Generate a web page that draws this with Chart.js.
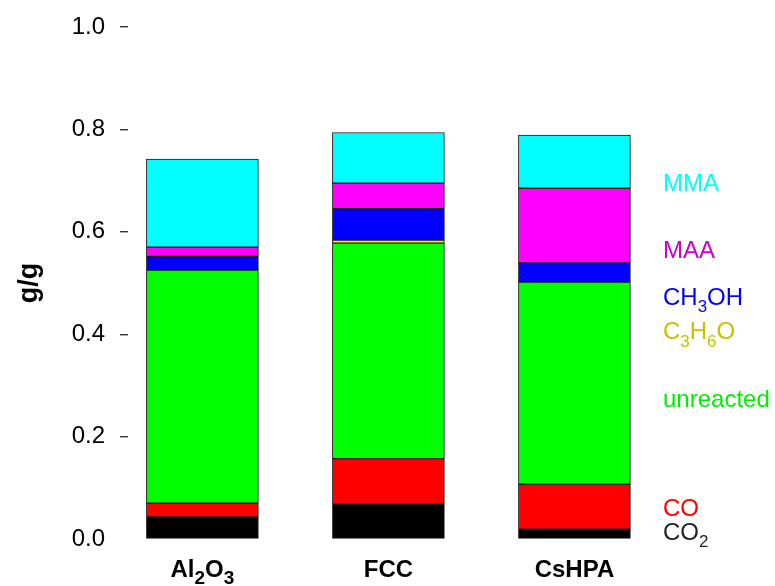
<!DOCTYPE html>
<html>
<head>
<meta charset="utf-8">
<script src="https://cdn.jsdelivr.net/npm/chart.js@4/dist/chart.umd.min.js"></script>
<style>
  html, body { margin: 0; padding: 0; background: #ffffff; }
  #wrap { width: 775px; height: 586px; }
</style>
</head>
<body>
<div id="wrap"><canvas id="c" width="775" height="586"></canvas></div>
<script>
// Product distribution (g/g) for each catalyst, stacked from the bottom up.
const catalysts = ['Al2O3', 'FCC', 'CsHPA'];
const co2       = [0.043, 0.068, 0.019];
const co        = [0.027, 0.089, 0.088];
const unreacted = [0.455, 0.421, 0.395];
const acetone   = [0.000, 0.006, 0.000];
const methanol  = [0.027, 0.061, 0.037];
const maa       = [0.018, 0.050, 0.146];
const mma       = [0.172, 0.099, 0.104];
const yTicks    = [0.0, 0.2, 0.4, 0.6, 0.8, 1.0];

// Series names (digits are printed as subscripts) and their styles.
const seriesNames  = ['CO2', 'CO', 'unreacted', 'C3H6O', 'CH3OH', 'MAA', 'MMA'];
const seriesValues = [co2, co, unreacted, acetone, methanol, maa, mma];
const barColors    = ['#000000', '#ff0000', '#00ff00', '#ffe600', '#0000ff', '#ff00ff', '#00ffff'];
const textColors   = ['#222222', '#ff0000', '#00ee00', '#c8c000', '#0000ff', '#cc00cc', '#00ffff'];
// Vertical placement (in g/g) of the series names beside the bars.
const nameLevels   = [0.0156, 0.0613, 0.2753, 0.4066, 0.4737, 0.566, 0.6965];

const FAMILY = '"Liberation Sans", Arial, Helvetica, sans-serif';

// Draws text where every run of digits is set as a subscript.
function drawChem(ctx, text, x, y, size, bold, align, subScale) {
  const parts = text.match(/\d+|\D+/g) || [];
  const subSize = Math.round(size * subScale);
  const font = s => (bold ? 'bold ' : '') + s + 'px ' + FAMILY;
  let width = 0;
  parts.forEach(p => {
    ctx.font = font(/\d/.test(p) ? subSize : size);
    width += ctx.measureText(p).width;
  });
  let cx = align === 'center' ? x - width / 2 : x;
  ctx.textAlign = 'left';
  ctx.textBaseline = 'alphabetic';
  parts.forEach(p => {
    const sub = /\d/.test(p);
    ctx.font = font(sub ? subSize : size);
    ctx.fillText(p, cx, y + (sub ? size * 0.3 : 0));
    cx += ctx.measureText(p).width;
  });
}

const chemLabels = {
  id: 'chemLabels',
  afterDraw(chart) {
    const ctx = chart.ctx;
    const xs = chart.scales.x, ys = chart.scales.y, area = chart.chartArea;
    ctx.save();
    // catalyst names under the bars
    ctx.fillStyle = '#000000';
    catalysts.forEach((name, i) => {
      drawChem(ctx, name, xs.getPixelForValue(i + 1), area.bottom + 38, 24, true, 'center', 0.8);
    });
    // series names to the right of the bars
    seriesNames.forEach((name, k) => {
      ctx.fillStyle = textColors[k];
      drawChem(ctx, name, area.right + 3, ys.getPixelForValue(nameLevels[k]) + 8.6, 24, false, 'left', 0.72);
    });
    ctx.restore();
  }
};

const datasets = seriesNames.map((name, k) => ({
  label: name,
  data: seriesValues[k].map((v, i) => ({ x: i + 1, y: v })),
  backgroundColor: barColors[k],
  borderColor: '#1a1a1a',
  borderWidth: 1,
  borderSkipped: false,
  barThickness: 112
}));

new Chart(document.getElementById('c'), {
  type: 'bar',
  data: { datasets },
  plugins: [chemLabels],
  options: {
    responsive: false,
    animation: false,
    devicePixelRatio: 1,
    layout: { padding: { top: 25, right: 115, bottom: 0, left: 0 } },
    plugins: { legend: { display: false }, tooltip: { enabled: false } },
    scales: {
      x: {
        type: 'linear',
        offset: false,
        stacked: true,
        min: 0.6,
        max: 3.46,
        grid: { display: false, offset: false },
        border: { display: false },
        ticks: { display: false },
        afterFit: s => { s.height = 47; }
      },
      y: {
        stacked: true,
        min: 0,
        max: 1,
        afterBuildTicks: s => { s.ticks = yTicks.map(v => ({ value: v })); },
        border: { display: false },
        grid: {
          drawOnChartArea: false,
          tickLength: 8,
          lineWidth: 1.4,
          color: c => (c.tick && c.tick.value === 0 ? 'rgba(0,0,0,0)' : '#333333')
        },
        ticks: {
          padding: 15,
          color: '#000000',
          font: { family: FAMILY, size: 24, lineHeight: 1 },
          callback: v => Number(v).toFixed(1)
        },
        title: {
          display: true,
          text: 'g/g',
          color: '#000000',
          font: { family: FAMILY, size: 27, weight: 'bold' },
          padding: { top: 13, bottom: 0 }
        },
        afterFit: s => { s.width = 128; }
      }
    }
  }
});
</script>
</body>
</html>
